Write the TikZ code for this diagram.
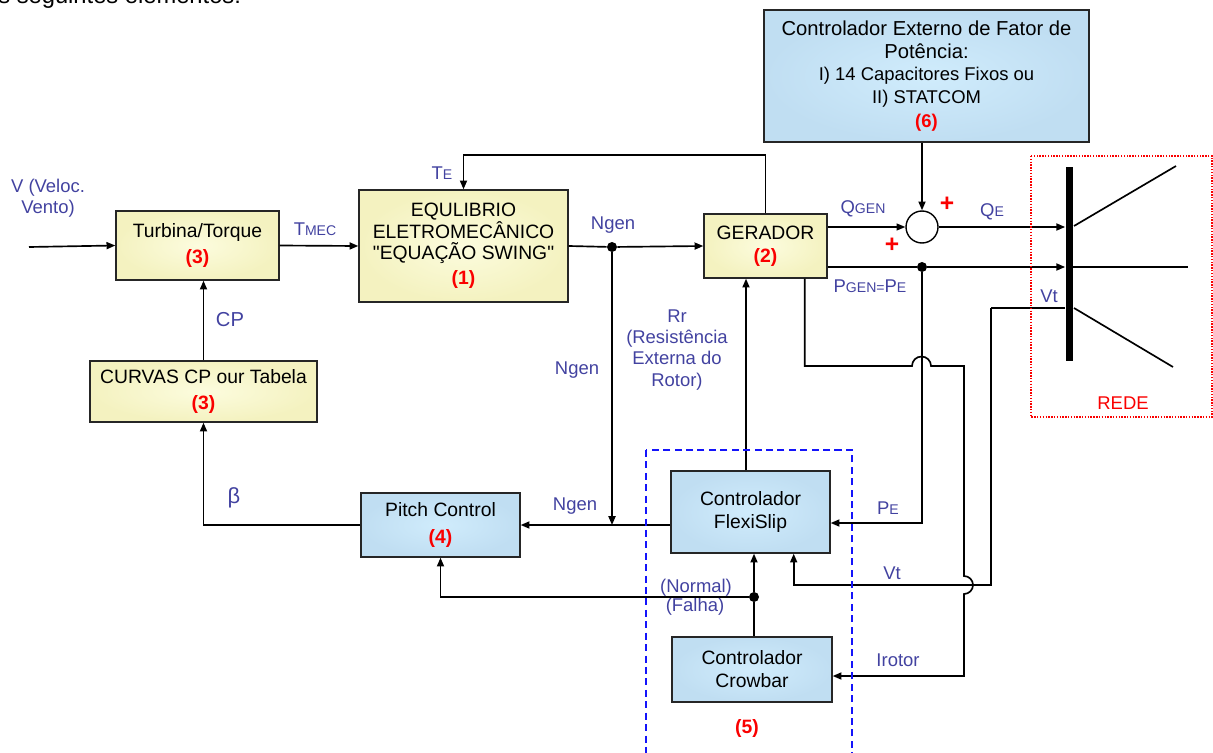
\documentclass[tikz,border=0pt]{standalone}
\usepackage{fontspec}
\setmainfont{Liberation Sans}[Ligatures=TeXOff]
\usetikzlibrary{positioning}
\usetikzlibrary{calc}
\usetikzlibrary{arrows.meta}
\usetikzlibrary{shapes}
\definecolor{lblue}{RGB}{66,66,160}
\definecolor{nred}{RGB}{250,0,0}
\definecolor{boxyel}{RGB}{244,242,192}
\definecolor{boxyelc}{RGB}{252,252,222}
\definecolor{boxblu}{RGB}{192,222,242}
\definecolor{boxbluc}{RGB}{208,236,252}
\definecolor{dashblu}{RGB}{20,20,250}
\newcommand{\lowcap}[1]{{\fontsize{8}{9}\selectfont #1}}
\newcommand{\blocknum}[1]{{\color{nred}\bfseries #1}}

\begin{document}
\begin{tikzpicture}[x=0.02cm, y=-0.02cm,
    >={Triangle[length=5pt,width=4pt]},
    every node/.style={font=\fontsize{10.5}{12}\selectfont},
    yelbox/.style={draw=black!85, line width=0.8pt, inner color=boxyelc, outer color=boxyel, align=center, inner sep=0pt, font=\fontsize{11}{12}\selectfont},
    blubox/.style={draw=black!85, line width=0.8pt, inner color=boxbluc, outer color=boxblu, align=center, inner sep=0pt, font=\fontsize{11}{12}\selectfont},
    lab/.style={text=lblue, align=center, inner sep=0pt},
    dot/.style={circle, fill, inner sep=0pt, minimum size=0.2cm},
    wire/.style={line width=0.95pt}]
  \useasboundingbox (0,0) rectangle (1213,753);

        % nodes %
        \node[anchor=base west, inner sep=0pt, font=\fontsize{13.5}{16}\selectfont] (intro) at (-2,4) {s seguintes elementos:};
        \node[yelbox, minimum width=3.26cm, minimum height=1.38cm] (turb) at (197.5,245.5) {Turbina/Torque\\[2.5pt]\blocknum{(3)}};
        \node[yelbox, minimum width=4.18cm, minimum height=2.24cm] (eq) at (463.5,246) {EQULIBRIO\\ELETROMECÂNICO\\"EQUAÇÃO SWING"\\[2.5pt]\blocknum{(1)}};
        \node[yelbox, minimum width=2.46cm, minimum height=1.28cm] (ger) at (765.5,246) {GERADOR\\[1pt]\blocknum{(2)}};
        \node[yelbox, minimum width=4.54cm, minimum height=1.22cm] (curv) at (203.5,391.5) {CURVAS CP our Tabela\\[2.5pt]\blocknum{(3)}};
        \node[blubox, minimum width=3.18cm, minimum height=1.28cm] (pitch) at (440.5,525) {Pitch Control\\[3.5pt]\blocknum{(4)}};
        \node[blubox, minimum width=3.18cm, minimum height=1.64cm] (flex) at (750.5,512) {Controlador\\[1pt]FlexiSlip};
        \node[blubox, minimum width=3.2cm, minimum height=1.3cm] (crow) at (752,669.5) {Controlador\\[1pt]Crowbar};
        \node[blubox, minimum width=6.5cm, minimum height=2.64cm, font=\fontsize{10.5}{13}\selectfont] (fpc) at (926.5,76) {{\fontsize{11.5}{13}\selectfont Controlador Externo de Fator de}\\{\fontsize{11.5}{13}\selectfont Potência:}\\I) 14 Capacitores Fixos ou\\II) STATCOM\\[0.5pt]\blocknum{(6)}};
        \node[circle, draw, line width=0.8pt, minimum size=0.64cm, inner sep=0pt] (sum) at (922,227) {};
        \node[fill=black, inner sep=0pt, minimum width=0.14cm, minimum height=3.88cm] (bus) at (1069,264) {};
        \node[dot] (ndot) at (612,247) {};
        \node[dot] (pdot) at (922,267) {};
        \node[dot] (sdot) at (754,597) {};

        % free ends %
        \coordinate (vin) at (29,247);
        \coordinate (l1a) at (1074,226);
        \coordinate (l1b) at (1176,166);
        \coordinate (l2b) at (1188,267);
        \coordinate (l3a) at (1074,308);
        \coordinate (l3b) at (1173,367);
        \coordinate (vtc) at (991,308);
        \coordinate (vtk) at (991,585);
        \coordinate (vtfx) at ($(flex.south east)+(-37,0)$);
        \coordinate (rrin) at ($(flex.north)+(-4.5,0)$);
        \coordinate (gout) at ($(ger.south east)+(-23,0)$);
        \coordinate (hop1) at (912,366);
        \coordinate (hop2) at (964,576);

        % labels %
        \node[lab] (vlab) at (48,198) {V (Veloc.\\Vento)};
        \node[lab] (tmec) at (315,229) {T\lowcap{MEC}};
        \node[lab] (te) at (442,173) {T\lowcap{E}};
        \node[lab] (ngen1) at (613,225) {Ngen};
        \node[lab] (qgen) at (863,209) {Q\lowcap{GEN}};
        \node[lab] (qe) at (992,212) {Q\lowcap{E}};
        \node[lab] (pgen) at (870,286) {P\lowcap{GEN=}P\lowcap{E}};
        \node[lab] (vt1) at (1049,296) {Vt};
        \node[lab, font=\fontsize{11.5}{14}\selectfont] (cp) at (230,320) {CP};
        \node[lab, font=\fontsize{12.5}{14}\selectfont] (beta) at (234,498) {β};
        \node[lab] (ngen2) at (577,370) {Ngen};
        \node[lab] (rr) at (677,350) {Rr\\(Resistência\\Externa do\\Rotor)};
        \node[lab] (ngen3) at (575,506) {Ngen};
        \node[lab] (pe) at (888,508) {P\lowcap{E}};
        \node[lab] (vt2) at (892,573) {Vt};
        \node[lab] (irot) at (898,660) {Irotor};
        \node[lab] (norm) at (696,588) {(Normal)};
        \node[lab] (falha) at (695,607) {(Falha)};
        \node[text=nred, font=\fontsize{11}{12}\selectfont\bfseries] (n5) at (747,728) {(5)};
        \node[text=nred] (rede) at (1123,403) {REDE};
        \node[text=nred, inner sep=0pt, font=\fontsize{14}{14}\selectfont\bfseries] (plus1) at (947,204) {+};
        \node[text=nred, inner sep=0pt, font=\fontsize{14}{14}\selectfont\bfseries] (plus2) at (892,245) {+};

        % edges %
        \draw[->, wire] (vin) -- (turb.west);
        \draw[->, wire] (turb.east) -- (eq.west);
        \draw[->, wire] (curv.north) -- (curv.north |- turb.south);
        \draw[->, wire] (ger.north) |- ($(eq.north)+(0,-34)$) -- (eq.north);
        \draw[wire] (eq.east) -- (ndot);
        \draw[->, wire] (ndot) -- (ger.west);
        \draw[->, wire] (ndot) -- (ndot |- pitch.east);
        \draw[->, wire] (flex.west |- pitch.east) -- (pitch.east);
        \draw[->, wire] (pitch.west) -| (curv.south);
        \draw[->, wire] (sdot) -| (pitch.south);
        \draw[->, wire] (sdot) -- (sdot |- flex.south);
        \draw[wire] (sdot) -- (sdot |- crow.north);
        \draw[->, wire] (rrin) -- (rrin |- ger.south);
        \draw[->, line width=0.7pt] (ger.east |- sum.west) -- (sum.west);
        \draw[->, wire] (fpc.south -| sum.north) -- (sum.north);
        \draw[->, wire] (sum.east) -- (sum.east -| bus.west);
        \draw[wire] (ger.east |- pdot) -- (pdot);
        \draw[->, wire] (pdot) -- (pdot -| bus.west);
        \draw[->, wire] (pdot) |- ($(flex.east)+(0,11)$);
        \draw[wire] (bus.west |- vtc) -- (vtc);
        \draw[->, wire] (vtc) -- (vtk) -| (vtfx);
        \draw[->, wire] (gout) |- (hop1) arc[start angle=180, end angle=0, radius=0.19cm] -| (hop2) arc[start angle=90, end angle=-90, radius=0.18cm] |- ($(crow.east)+(0,6.5)$);
        \draw[wire] (l1a) -- (l1b);
        \draw[wire] (bus.east |- l2b) -- (l2b);
        \draw[wire] (l3a) -- (l3b);

        % groups %
        \draw[dashblu, line width=0.9pt, dash pattern=on 4pt off 2.5pt] (646,450) rectangle (852,770);
        \draw[nred, line width=0.8pt, dash pattern=on 0.8pt off 0.8pt] (1031,156) rectangle (1212,417);
\end{tikzpicture}
\end{document}
